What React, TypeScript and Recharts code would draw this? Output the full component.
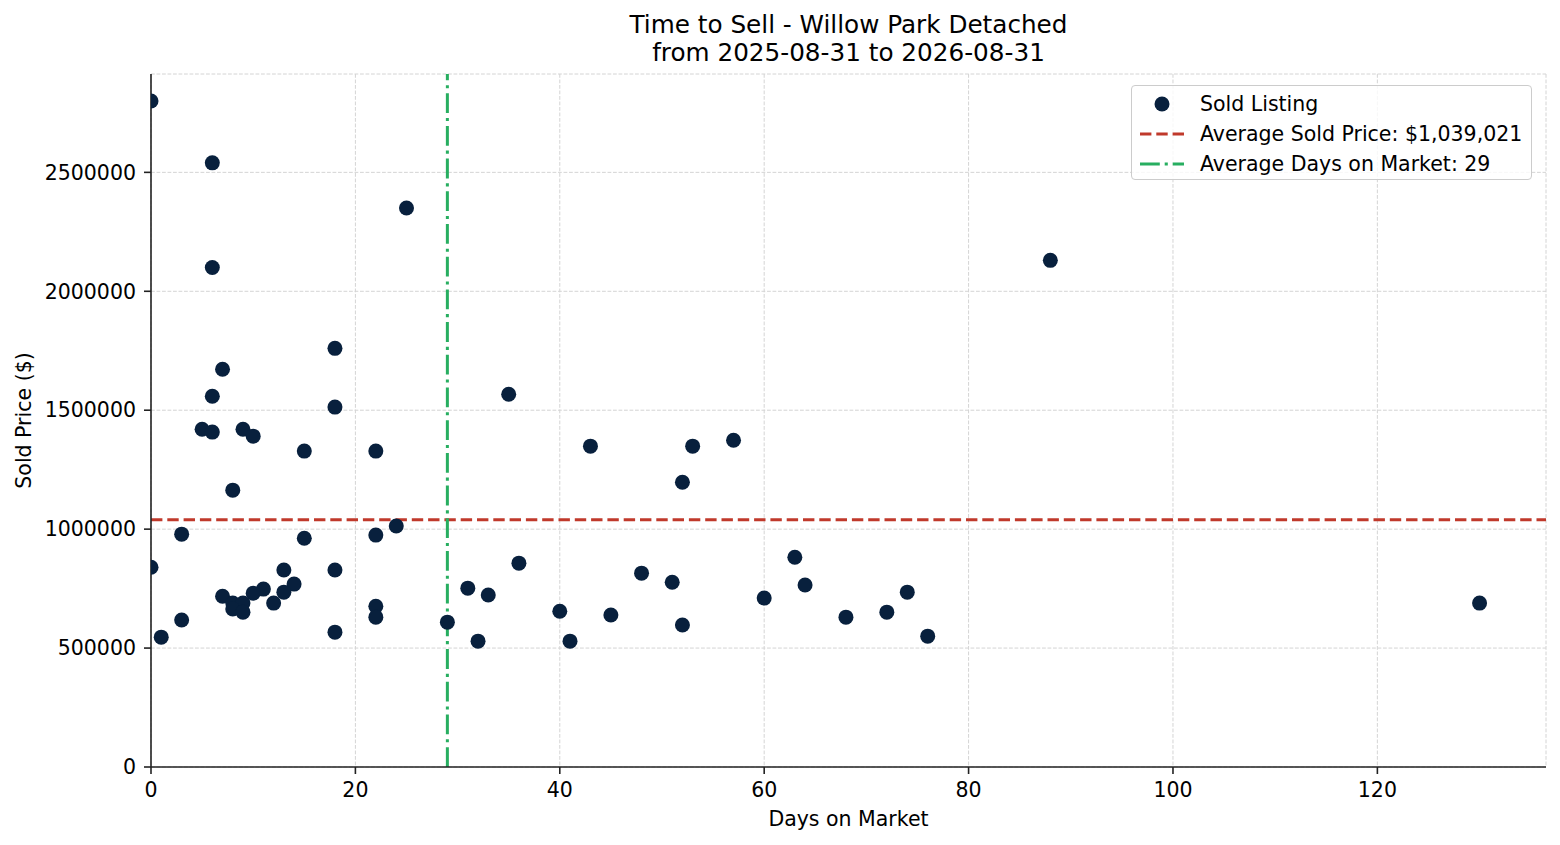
import React from "react";
import {
  ScatterChart,
  Scatter,
  XAxis,
  YAxis,
  CartesianGrid,
  ReferenceLine,
  Legend,
} from "recharts";

// days on market and sold price per listing
const daysOnMarket = [
  0, 6, 6, 25, 88, 18, 7, 6, 18, 35, 5, 6, 9, 10, 15, 22, 43, 53, 57, 52, 8,
  24, 3, 22, 15, 0, 36, 63, 18, 13, 48, 51, 64, 14, 11, 31, 10, 13, 74, 7, 33,
  60, 8, 9, 12, 130, 22, 8, 9, 40, 72, 45, 3, 22, 68, 29, 52, 18, 1, 76, 32,
  41,
];
const soldPrices = [
  2800000, 2540000, 2100000, 2350000, 2130000, 1760000, 1672000, 1559000,
  1513000, 1567000, 1420000, 1408000, 1420000, 1391000, 1328000, 1328000,
  1349000, 1349000, 1374000, 1197000, 1164000, 1013000, 979000, 975000,
  962000, 840000, 857000, 882000, 828000, 828000, 815000, 777000, 765000,
  769000, 748000, 752000, 731000, 735000, 735000, 718000, 723000, 710000,
  689000, 689000, 689000, 689000, 676000, 664000, 651000, 655000, 651000,
  639000, 618000, 630000, 630000, 609000, 597000, 567000, 546000, 550000,
  529000, 529000,
];
const xTicks = [0, 20, 40, 60, 80, 100, 120];
const yTicks = [0, 500000, 1000000, 1500000, 2000000, 2500000];
const avgSoldPrice = 1039021;
const avgDaysOnMarket = 29;

const FONT = "'DejaVu Sans', sans-serif";
const NAVY = "#08203d";
const RED = "#c0392b";
const GREEN = "#27ae60";
const INK = "#222222";

const points = daysOnMarket.map((d, i) => ({ days: d, price: soldPrices[i] }));

const Dot = (props: any) => (
  <circle cx={props.cx} cy={props.cy} r={7.5} fill={NAVY} />
);

const LegendBox = () => {
  const row = { display: "flex", alignItems: "center", height: 30 };
  const label = { marginLeft: 16, whiteSpace: "nowrap" as const };
  return (
    <div
      style={{
        width: 401,
        height: 95,
        boxSizing: "border-box",
        border: "1.5px solid #cccccc",
        borderRadius: 4,
        background: "rgba(255,255,255,0.8)",
        fontFamily: FONT,
        fontSize: 20.5,
        color: "#000",
        padding: "3px 0 0 8px",
      }}
    >
      <div style={row}>
        <svg width={44} height={20}>
          <circle cx={22} cy={10} r={7.5} fill={NAVY} />
        </svg>
        <span style={label}>Sold Listing</span>
      </div>
      <div style={row}>
        <svg width={44} height={20}>
          <line x1={0} x2={44} y1={10} y2={10} stroke={RED} strokeWidth={3} strokeDasharray="11.4 4.9" />
        </svg>
        <span style={label}>Average Sold Price: $1,039,021</span>
      </div>
      <div style={row}>
        <svg width={44} height={20}>
          <line x1={0} x2={44} y1={10} y2={10} stroke={GREEN} strokeWidth={3} strokeDasharray="19.8 4.9 3.1 4.9" />
        </svg>
        <span style={label}>Average Days on Market: {avgDaysOnMarket}</span>
      </div>
    </div>
  );
};

const tickStyle = { fill: "#000", fontSize: 20.5, fontFamily: FONT };

export default function App() {
  return (
    <div style={{ position: "absolute", left: 0, top: 0, width: 1560, height: 845, background: "#fff" }}>
      <div
        style={{
          position: "absolute",
          left: 151,
          top: 11,
          width: 1395,
          textAlign: "center",
          fontFamily: FONT,
          fontSize: 24.7,
          lineHeight: "28px",
          color: "#000",
        }}
      >
        Time to Sell - Willow Park Detached
        <br />
        from 2025-08-31 to 2026-08-31
      </div>
      <ScatterChart
        width={1560}
        height={845}
        margin={{ top: 74, right: 14, bottom: 0, left: 0 }}
      >
        <CartesianGrid stroke="#d4d4d4" strokeDasharray="3.8 1.7" strokeWidth={1} />
        <XAxis
          type="number"
          dataKey="days"
          domain={[0, 136.5]}
          ticks={xTicks}
          allowDataOverflow
          height={78}
          tick={tickStyle}
          tickSize={7}
          tickMargin={8}
          axisLine={{ stroke: INK, strokeWidth: 1.6 }}
          tickLine={{ stroke: INK, strokeWidth: 1.6 }}
          label={{
            content: (p: any) => {
              const { x, y, width } = p.viewBox;
              return (
                <text x={x + width / 2} y={y + 52} textAnchor="middle" dominantBaseline="central" fontFamily={FONT} fontSize={20.5} fill="#000">
                  Days on Market
                </text>
              );
            },
          }}
        />
        <YAxis
          type="number"
          dataKey="price"
          domain={[0, 2913500]}
          ticks={yTicks}
          allowDataOverflow
          width={151}
          tick={tickStyle}
          tickSize={7}
          tickMargin={8}
          axisLine={{ stroke: INK, strokeWidth: 1.6 }}
          tickLine={{ stroke: INK, strokeWidth: 1.6 }}
          label={{
            content: (p: any) => {
              const { x, y, height } = p.viewBox;
              const cx = x + 24;
              const cy = y + height / 2;
              return (
                <text x={cx} y={cy} transform={`rotate(-90, ${cx}, ${cy})`} textAnchor="middle" dominantBaseline="central" fontFamily={FONT} fontSize={20.5} fill="#000">
                  Sold Price ($)
                </text>
              );
            },
          }}
        />
        <ReferenceLine y={avgSoldPrice} stroke={RED} strokeWidth={3} strokeDasharray="11.4 4.9" />
        <ReferenceLine x={avgDaysOnMarket} stroke={GREEN} strokeWidth={3} strokeDasharray="19.8 4.9 3.1 4.9" />
        <Scatter
          name="Sold Listing"
          data={points}
          shape={Dot}
          fill={NAVY}
          isAnimationActive={false}
        />
        <Legend
          layout="vertical"
          align="center"
          verticalAlign="middle"
          content={() => <LegendBox />}
          wrapperStyle={{ left: 1131, top: 85, width: 401, height: 95 }}
        />
      </ScatterChart>
    </div>
  );
}
